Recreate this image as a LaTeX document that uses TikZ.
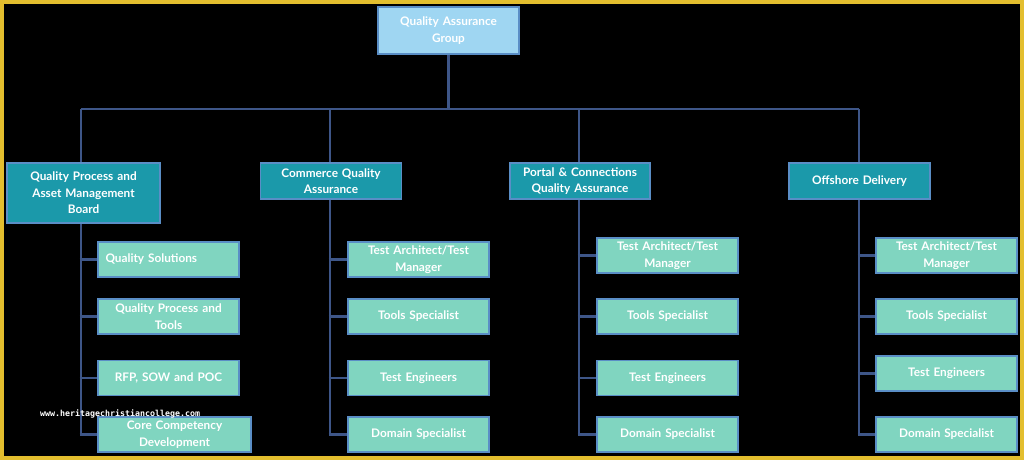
\documentclass[tikz,border=0pt]{standalone}
\usepackage{fontspec}
\setmainfont{Lato}
\newfontfamily\wmfont{DejaVu Sans Mono}
\definecolor{frameyellow}{HTML}{E3BE2E}
\definecolor{topblue}{HTML}{9FD6F2}
\definecolor{teal2}{HTML}{1B99AA}
\definecolor{mint}{HTML}{80D5C0}
\definecolor{edgeblue}{HTML}{5A8EC6}
\definecolor{linkblue}{HTML}{3E5688}
\begin{document}
\begin{tikzpicture}[x=1pt,y=-1pt,
  box/.style={draw=edgeblue, line width=1.2pt, text=white, font=\fontsize{11.8}{16.5}\selectfont\bfseries, align=center, inner sep=0pt},
  topbox/.style={box, fill=topblue, minimum width=141pt, minimum height=47pt, text width=134pt},
  midbox/.style={box, fill=teal2, minimum width=141pt, minimum height=36pt, text width=136pt},
  leafbox/.style={box, fill=mint, minimum width=141pt, minimum height=35pt, text width=136pt},
  link/.style={draw=linkblue, line width=2.6pt}]
\fill[black] (0,0) rectangle (1024,460);
\useasboundingbox (0,0) rectangle (1024,460);
% top
\node[topbox] (qa) at (448.5,30.5) {Quality Assurance\\Group};
% level 2
\node[midbox, minimum width=153pt, minimum height=60pt, text width=148pt] (qp) at (83.5,193) {Quality Process and\\Asset Management\\Board};
\node[midbox] (cq) at (331,181) {Commerce Quality\\Assurance};
\node[midbox, minimum width=140pt] (pc) at (580,181) {Portal \& Connections\\Quality Assurance};
\node[midbox] (od) at (859.5,181) {Offshore Delivery};
% level 3, column 1
\node[leafbox, text width=126pt, align=left] (a1) at (168.5,259.5) {Quality Solutions};
\node[leafbox] (a2) at (168.5,316.5) {Quality Process and\\Tools};
\node[leafbox] (a3) at (168.5,378) {RFP, SOW and POC};
\node[leafbox, minimum width=153pt] (a4) at (174.5,434.5) {Core Competency\\Development};
% column 2
\node[leafbox] (b1) at (418.5,259.5) {Test Architect/Test\\Manager};
\node[leafbox] (b2) at (418.5,316.5) {Tools Specialist};
\node[leafbox] (b3) at (418.5,378) {Test Engineers};
\node[leafbox] (b4) at (418.5,434.5) {Domain Specialist};
% column 3
\node[leafbox] (c1) at (667.5,255.5) {Test Architect/Test\\Manager};
\node[leafbox] (c2) at (667.5,316.5) {Tools Specialist};
\node[leafbox] (c3) at (667.5,378) {Test Engineers};
\node[leafbox] (c4) at (667.5,434.5) {Domain Specialist};
% column 4
\node[leafbox] (d1) at (946.5,255.5) {Test Architect/Test\\Manager};
\node[leafbox] (d2) at (946.5,316.5) {Tools Specialist};
\node[leafbox] (d3) at (946.5,373.5) {Test Engineers};
\node[leafbox] (d4) at (946.5,434.5) {Domain Specialist};
% bus
\coordinate (bus) at (448.5,109);
\coordinate (qpx) at (81,109);
\coordinate (cqx) at (330,109);
\coordinate (pcx) at (579,109);
\coordinate (odx) at (859,109);
\draw[link] (qa.south) -- (bus);
\draw[link] (qpx) -- (odx);
\draw[link] (qpx) -- (qpx |- qp.north);
\draw[link] (cqx) -- (cqx |- cq.north);
\draw[link] (pcx) -- (pcx |- pc.north);
\draw[link] (odx) -- (odx |- od.north);
% column spines
\draw[link] (qpx |- qp.south) -- (qpx |- a4.west);
\draw[link] (cqx |- cq.south) -- (cqx |- b4.west);
\draw[link] (pcx |- pc.south) -- (pcx |- c4.west);
\draw[link] (odx |- od.south) -- (odx |- d4.west);
\foreach \n in {a1,a2,a3,a4} \draw[link] ([xshift=-1.3pt]qpx |- \n.west) -- (\n.west);
\foreach \n in {b1,b2,b3,b4} \draw[link] ([xshift=-1.3pt]cqx |- \n.west) -- (\n.west);
\foreach \n in {c1,c2,c3,c4} \draw[link] ([xshift=-1.3pt]pcx |- \n.west) -- (\n.west);
\foreach \n in {d1,d2,d3,d4} \draw[link] ([xshift=-1.3pt]odx |- \n.west) -- (\n.west);
% redraw nodes above lines
\node[midbox, minimum width=153pt, minimum height=60pt, text width=148pt] at (83.5,193) {Quality Process and\\Asset Management\\Board};
\node[leafbox, minimum width=153pt] at (174.5,434.5) {Core Competency\\Development};
% watermark
\node[text=white, font=\fontsize{8.3}{8.3}\selectfont\wmfont\bfseries, anchor=west, inner sep=0pt] (wm) at (40,414) {www.heritagechristiancollege.com};
% frame
\draw[frameyellow, line width=4pt] (2,2) rectangle (1022,458);
\end{tikzpicture}
\end{document}
